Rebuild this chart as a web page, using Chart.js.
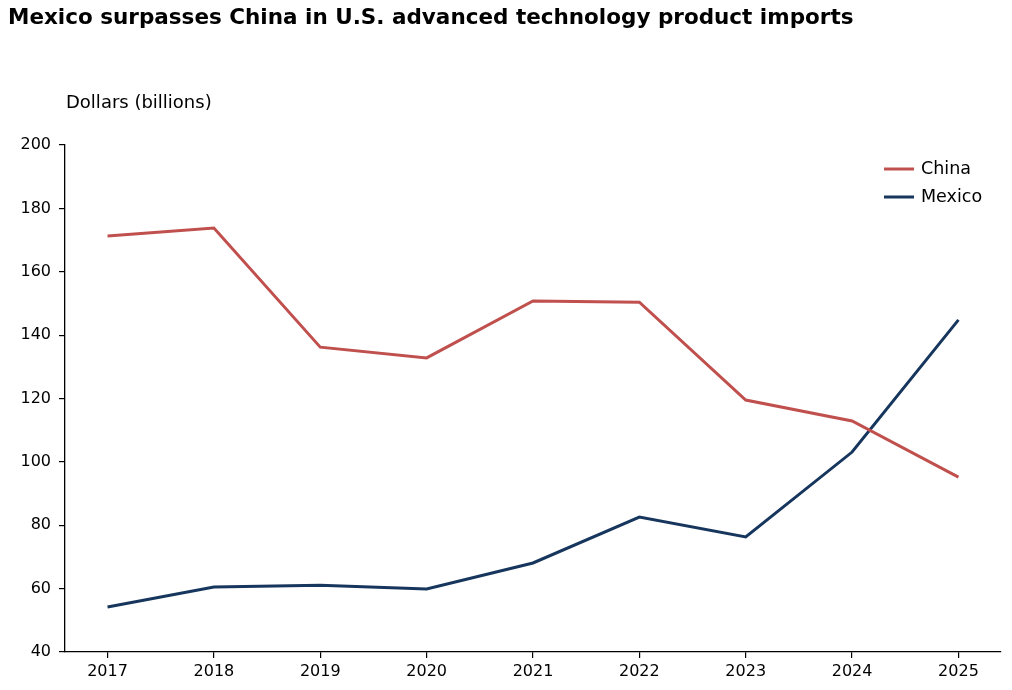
<!DOCTYPE html>
<html>
<head>
<meta charset="utf-8">
<script src="https://cdn.jsdelivr.net/npm/chart.js@4"></script>
<style>
html,body{margin:0;padding:0;background:#fff;}
#wrap{width:1012px;height:690px;}
</style>
</head>
<body>
<div id="wrap"><canvas id="c" width="1012" height="690"></canvas></div>
<script>
const years = [2017, 2018, 2019, 2020, 2021, 2022, 2023, 2024, 2025];
const china = [171.3, 173.8, 136.2, 132.8, 150.8, 150.4, 119.5, 112.9, 95.2];
const mexico = [54.2, 60.5, 61.1, 59.9, 68.1, 82.6, 76.3, 103.1, 144.8];
const yTicks = [40, 60, 80, 100, 120, 140, 160, 180, 200];
const titleText = 'Mexico surpasses China in U.S. advanced technology product imports';
const yLabel = 'Dollars (billions)';
const FONT = '"DejaVu Sans", sans-serif';

const textPlugin = {
  id: 'texts',
  afterDraw(chart) {
    const ctx = chart.ctx;
    ctx.save();
    ctx.fillStyle = '#000';
    ctx.textBaseline = 'middle';
    ctx.textAlign = 'left';
    ctx.font = 'bold 21.5px ' + FONT;
    ctx.fillText(titleText, 8, 18);
    ctx.font = '18px ' + FONT;
    ctx.fillText(yLabel, 66, 103);
    // legend
    const lx = 884, ly = [169, 197];
    chart.data.datasets.forEach((ds, i) => {
      ctx.strokeStyle = ds.borderColor;
      ctx.lineWidth = 3;
      ctx.beginPath();
      ctx.moveTo(lx, ly[i]);
      ctx.lineTo(lx + 30, ly[i]);
      ctx.stroke();
      ctx.fillStyle = '#000';
      ctx.font = '17.5px ' + FONT;
      ctx.fillText(ds.label, lx + 37, ly[i]);
    });
    ctx.restore();
  }
};

new Chart(document.getElementById('c'), {
  type: 'line',
  data: {
    datasets: [
      { label: 'China', data: years.map((y, i) => ({x: y, y: china[i]})), borderColor: '#c0504d', borderWidth: 3, pointRadius: 0, tension: 0, fill: false },
      { label: 'Mexico', data: years.map((y, i) => ({x: y, y: mexico[i]})), borderColor: '#17365d', borderWidth: 3, pointRadius: 0, tension: 0, fill: false }
    ]
  },
  options: {
    responsive: false,
    animation: false,
    events: [],
    layout: { padding: { left: 0, right: 11, top: 145, bottom: 0 } },
    plugins: { legend: { display: false }, title: { display: false }, tooltip: { enabled: false } },
    scales: {
      x: {
        type: 'linear',
        min: 2016.6,
        max: 2025.4,
        afterBuildTicks: (axis) => { axis.ticks = years.map(v => ({ value: v })); },
        afterFit: (scale) => { scale.height = 38; },
        grid: { display: true, drawOnChartArea: false, drawTicks: true, tickLength: 6, color: '#000', lineWidth: 1.2 },
        border: { display: true, color: '#000', width: 1.3 },
        ticks: { color: '#000', font: { family: FONT, size: 16 }, padding: 4, maxRotation: 0, autoSkip: false, callback: (v) => String(v) }
      },
      y: {
        min: 40,
        max: 200,
        afterBuildTicks: (axis) => { axis.ticks = yTicks.map(v => ({ value: v })); },
        afterFit: (scale) => { scale.width = 65; },
        grid: { display: true, drawOnChartArea: false, drawTicks: true, tickLength: 6, color: '#000', lineWidth: 1.2 },
        border: { display: true, color: '#000', width: 1.3 },
        ticks: { color: '#000', font: { family: FONT, size: 16 }, padding: 8, callback: (v) => String(v) }
      }
    }
  },
  plugins: [textPlugin]
});
</script>
</body>
</html>
